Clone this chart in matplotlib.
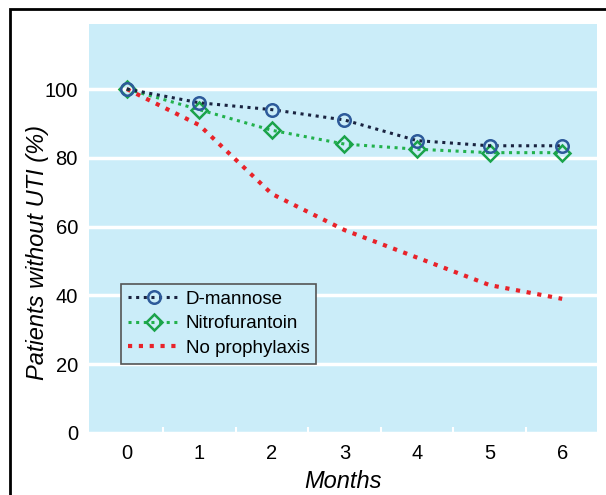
import matplotlib
matplotlib.use("Agg")
import matplotlib.pyplot as plt
from matplotlib.patches import Rectangle

months = [0, 1, 2, 3, 4, 5, 6]
d_mannose = [100, 96, 94, 91, 85, 83.5, 83.5]
nitrofurantoin = [100, 94, 88, 84, 82.5, 81.5, 81.5]
no_prophylaxis = [100, 89.5, 69.5, 59, 51, 43, 39]
yticks = [0, 20, 40, 60, 80, 100]

plt.rcParams['font.family'] = ['Liberation Sans', 'DejaVu Sans']

fig = plt.figure(figsize=(6.06, 4.95), dpi=100)
fig.patch.set_facecolor('white')
ax = fig.add_axes([89/606, 1-433/495, (597-89)/606, (433-24)/495])
bg = '#cbedf9'
ax.set_facecolor(bg)

ax.plot(months, no_prophylaxis, color='#e8232a', linestyle=(0, (1, 1.6)), linewidth=3.0,
        label='No prophylaxis', zorder=3)
ax.plot(months, nitrofurantoin, color='#22b14c', linestyle=(0, (1, 1.5)), linewidth=2.2,
        marker='D', markersize=8, markerfacecolor='none', markeredgecolor='#1aa34a',
        markeredgewidth=1.8, label='Nitrofurantoin', zorder=4)
ax.plot(months, d_mannose, color='#1a2340', linestyle=(0, (1, 1.5)), linewidth=2.2,
        marker='o', markersize=9, markerfacecolor='none', markeredgecolor='#2d5a9a',
        markeredgewidth=1.8, label='D-mannose', zorder=5)

ax.set_xlim(-0.52, 6.48)
ax.set_ylim(0, 118.9)
ax.set_yticks(yticks)
ax.set_xticks(months)
ax.grid(axis='y', color='white', linewidth=2.5)
ax.set_axisbelow(True)
for s in ax.spines.values():
    s.set_visible(False)
ax.tick_params(axis='both', length=0, labelsize=14.5, pad=8)
ax.set_xticks([0.5, 1.5, 2.5, 3.5, 4.5, 5.5], minor=True)
ax.tick_params(axis='x', which='minor', length=4, width=1.5, color='white', direction='in')

ax.set_xlabel('Months', fontsize=17, style='italic')
ax.xaxis.set_label_coords(0.5, -(481 - 433) / 409, transform=ax.transAxes)
ax.xaxis.label.set_va('center')
ax.set_ylabel('Patients without UTI (%)', fontsize=17, style='italic')
ax.yaxis.set_label_coords(-(89 - 38) / 508, (433 - 253) / 409, transform=ax.transAxes)
ax.yaxis.label.set_va('center')

handles, labels = ax.get_legend_handles_labels()
order = [2, 1, 0]
leg = ax.legend([handles[i] for i in order], [labels[i] for i in order],
                loc='upper left', bbox_to_anchor=((121 - 89) / 508, (433 - 284) / 409),
                fontsize=13.5, frameon=True, fancybox=False, facecolor=bg,
                edgecolor='#555555', handlelength=2.8, borderpad=0.35, labelspacing=0.4,
                handletextpad=0.3, borderaxespad=0)
leg.get_frame().set_linewidth(1.2)
leg.get_frame().set_alpha(1)

fig.patches.append(Rectangle((10/606, -0.01), 1.0, 1 - 9/495 + 0.01, transform=fig.transFigure,
                             fill=False, edgecolor='black', linewidth=2))

fig.savefig('out.png', dpi=100)
